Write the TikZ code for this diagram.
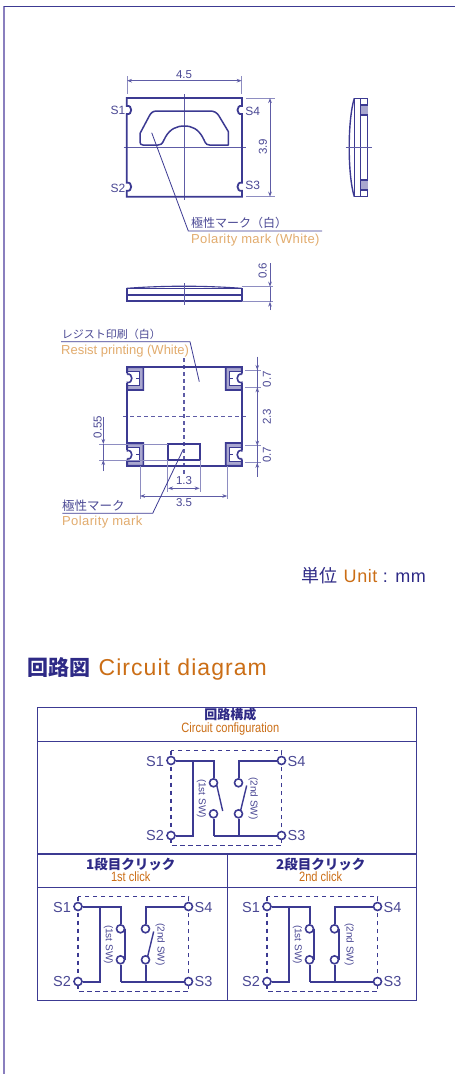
\documentclass[tikz,border=0pt]{standalone}
\usepackage{fontspec}
\usepackage{graphicx}
\setmainfont{Liberation Sans}
\newfontfamily\jp{Noto Sans CJK JP}
\newfontfamily\wideA[LetterSpace=3]{Liberation Sans}
\newfontfamily\wideB[LetterSpace=4.5]{Liberation Sans}
\usetikzlibrary{arrows.meta}
\definecolor{navy}{HTML}{3C3A92}
\definecolor{dimc}{HTML}{5E5CA6}
\definecolor{txtc}{HTML}{4A4894}
\definecolor{tan}{HTML}{E2AC6E}
\definecolor{orng}{HTML}{CB6E16}
\definecolor{deep}{HTML}{2E2A86}
\definecolor{padg}{HTML}{A9A7CF}
\definecolor{framel}{HTML}{8A7FBE}
\tikzset{
  outl/.style={draw=navy,line width=1.8pt},
  thinl/.style={draw=navy,line width=1.1pt},
  fine/.style={draw=dimc,line width=.9pt},
  extn/.style={draw=dimc!70,line width=1pt},
  leader/.style={draw=navy,line width=.8pt},
  dimarrow/.style={draw=dimc,line width=.9pt,{Stealth[length=5pt,width=3.6pt]}-{Stealth[length=5pt,width=3.6pt]}},
  dimin/.style={draw=dimc,line width=.9pt,-{Stealth[length=5pt,width=3.6pt]}},
  dashc/.style={draw=dimc,line width=1.1pt,dash pattern=on 4pt off 3pt},
  dashb/.style={draw=navy,line width=1.7pt,dash pattern=on 4.5pt off 3.5pt},
  lbl/.style={inner sep=0pt,text=txtc,font=\fontsize{11.5}{12}\selectfont},
  sxl/.style={inner sep=0pt,text=txtc,font=\fontsize{12}{13}\selectfont},
  jplbl/.style={inner sep=0pt,anchor=west,text=txtc,font=\fontsize{12}{13}\selectfont\jp},
  enlbl/.style={inner sep=0pt,anchor=west,text=tan,font=\fontsize{13}{14}\selectfont\wideA},
  pin/.style={circle,draw=navy,line width=1.6pt,fill=white,minimum size=8pt,inner sep=0pt},
  wire/.style={draw=navy,line width=2pt},
  swlbl/.style={inner sep=0pt,text=txtc,rotate=-90,font=\fontsize{10}{11}\selectfont},
  pinlbl/.style={inner sep=0pt,text=txtc,font=\fontsize{14.5}{15}\selectfont},
  thead/.style={inner sep=0pt,text=deep,font=\fontsize{13}{14}\selectfont\jp\bfseries},
  tsub/.style={inner sep=0pt,text=orng,font=\fontsize{13.5}{14}\selectfont},
  tbl/.style={draw=navy,line width=1.6pt},
}
% one switch unit: #1 prefix, #2,#3 position, #4 state of 1st SW, #5 state of 2nd SW (o/c)
\newcommand{\swunit}[5]{%
  \begin{scope}[shift={(#2,#3)}]
    \draw[dashb] (0,-10) rectangle (110.5,85);
    \coordinate (#1j) at (21.5,0);
    \coordinate (#1k) at (21.5,75);
    \coordinate (#1m) at (42.5,0);
    \coordinate (#1n) at (42.5,75);
    \coordinate (#1u) at (67.5,0);
    \coordinate (#1v) at (67.5,75);
    \node[pin] (#1a) at (0,0) {};
    \node[pin] (#1d) at (110.5,0) {};
    \node[pin] (#1b) at (0,75) {};
    \node[pin] (#1c) at (110.5,75) {};
    \node[pin] (#1p) at (42.5,22.3) {};
    \node[pin] (#1q) at (42.5,53.3) {};
    \node[pin] (#1r) at (67.5,22.3) {};
    \node[pin] (#1t) at (67.5,53.3) {};
    \draw[wire] (#1a) -- (#1j) -- (#1k) -- (#1b);
    \draw[wire] (#1j) -- (#1m) -- (#1p);
    \draw[wire] (#1q) -- (#1n);
    \draw[wire] (#1n) -- (#1c);
    \draw[wire] (#1d) -- (#1u) -- (#1r);
    \draw[wire] (#1t) -- (#1v);
    \if#4o\draw[wire,line width=1.4pt] (45.7,24.5) -- (51.7,50.5);\else\draw[wire] (46.5,22.3) -- (46.5,53.3);\fi
    \if#5o\draw[wire,line width=1.4pt] (75.7,25) -- (69.5,50.5);\else\draw[wire] (71.5,22.3) -- (71.5,53.3);\fi
    \node[swlbl] (#1l) at (30.5,38) {(1st SW)};
    \node[swlbl] (#1e) at (82.3,38) {(2nd SW)};
    \node[pinlbl] (#1w) at (-16,0.5) {S1};
    \node[pinlbl] (#1x) at (-16,75) {S2};
    \node[pinlbl] (#1y) at (125.5,0.5) {S4};
    \node[pinlbl] (#1z) at (125.5,75) {S3};
  \end{scope}}
% corner pad of the bottom view
\newcommand{\padcorner}[3]{%
  \begin{scope}[shift={(#1,#2)},#3]
    \fill[white] (-1.5,6) rectangle (1,16);
    \fill[padg] (0,0) rectangle (16,4.5);
    \fill[padg] (0,18) rectangle (16,22.7);
    \fill[padg] (12.5,0) rectangle (16,22.7);
    \draw[outl,line width=1.6pt] (0,7) -- (0,0) -- (16,0) -- (16,22.7) -- (0,22.7) -- (0,15) .. controls (6,16.5) and (6,5.5) .. (0,7);
    \draw[thinl] (0,4.5) -- (12.5,4.5) -- (12.5,18) -- (0,18);
    \draw[thinl] (9,11) -- (12.5,11);
  \end{scope}}
\begin{document}
\begin{tikzpicture}[x=1pt,y=-1pt]
\useasboundingbox (0,0) rectangle (455,1074);
\fill[white] (0,0) rectangle (455,1074);
% page frame
\draw[framel,line width=1.6pt] (4,6) -- (4,1074);
\draw[navy,line width=1.2pt] (4,6.3) -- (455,6.3);

% ---------- top view
\draw[fine] (123.5,147) -- (246,147);
\draw[fine] (184.3,94) -- (184.3,200);
\draw[outl] (126.7,98) -- (242,98) -- (242,106)
  .. controls (236,104.5) and (236,115.5) .. (242,114) -- (242,182.7)
  .. controls (236,181.2) and (236,192.2) .. (242,190.7) -- (242,196.7) -- (126.7,196.7) -- (126.7,190.7)
  .. controls (132.7,192.2) and (132.7,181.2) .. (126.7,182.7) -- (126.7,114)
  .. controls (132.7,115.5) and (132.7,104.5) .. (126.7,106) -- cycle;
\draw[draw=navy,line width=1.5pt,line join=round] (140,133.5) -- (149,116.5)
  .. controls (151,112.5) and (153,111) .. (157,111) -- (210,111)
  .. controls (214,111) and (217,112.5) .. (219,116)
  -- (228.3,131.5) -- (228.3,145) -- (209.5,145)
  .. controls (205,145) and (205,141) .. (202.5,137)
  .. controls (198,129) and (192,126) .. (184.3,126)
  .. controls (176.5,126) and (170,129) .. (165.5,137)
  .. controls (163,141) and (163,145) .. (158,145)
  -- (143,145) .. controls (141,145) and (140,144) .. (140,142) -- cycle;
\node[sxl] (s1t) at (118,110) {S1};
\node[sxl] (s2t) at (118,188) {S2};
\node[sxl] (s4t) at (252.7,111.7) {S4};
\node[sxl] (s3t) at (252.7,185.7) {S3};
\draw[extn] (127,76) -- (127,94);
\draw[extn] (241.7,76) -- (241.7,94);
\draw[dimarrow] (127,80.7) -- (241.7,80.7);
\node[lbl] (w45) at (184,75) {4.5};
\draw[extn] (246,98) -- (274.5,98);
\draw[extn] (246,196.7) -- (274.5,196.7);
\draw[dimarrow] (270,98) -- (270,196.7);
\node[lbl,rotate=90] (h39) at (263,147) {3.9};
\coordinate (lp1) at (151.7,132.7);
\coordinate (lp2) at (188.3,231);
\coordinate (lp3) at (322,231);
\draw[leader] (lp1) -- (lp2) -- (lp3);
\node[jplbl] (pm1) at (191,222.5) {極性マーク（白）};
\node[enlbl] (pm2) at (191,240) {Polarity mark (White)};

% ---------- side view (right)
\draw[outl,line width=1.5pt] (354.3,98.3) rectangle (367.7,196.7);
\fill[padg] (361,105) rectangle (367.7,115);
\fill[padg] (361,180) rectangle (367.7,190);
\draw[thinl,line width=1.4pt] (360.7,98.3) -- (360.7,196.7);
\draw[thinl] (360.7,105) -- (367.7,105) (360.7,115) -- (367.7,115) (360.7,180) -- (367.7,180) (360.7,190) -- (367.7,190);
\draw[draw=navy,line width=1.4pt] (354.3,98.3) .. controls (347.5,120) and (347.5,175) .. (354.3,196.7);
\draw[fine] (345.7,147.3) -- (371.7,147.3);

% ---------- side view (lower)
\draw[outl,line width=1.6pt] (126.7,288.3) rectangle (241.7,301);
\draw[thinl,line width=1.5pt] (126.7,295) -- (241.7,295);
\draw[thinl] (126.7,288.3) .. controls (165,285.5) and (203,285.5) .. (241.7,288.3);
\draw[fine] (184,283.3) -- (184,305);
\draw[extn] (241.7,286.7) -- (273,286.7);
\draw[extn] (241.7,301.7) -- (273,301.7);
\draw[dimin] (270,263) -- (270,286.7);
\draw[dimin] (270,310) -- (270,301.7);
\draw[fine] (270,286.7) -- (270,301.7);
\node[lbl,rotate=90] (h06) at (262.7,271) {0.6};

% ---------- bottom view
\draw[dashc] (184,358) -- (184,475);
\draw[dashc] (123,416.7) -- (247,416.7);
\draw[outl] (127.3,367.3) rectangle (241.7,465.7);
\padcorner{127.3}{367.3}{}
\padcorner{241.7}{367.3}{xscale=-1}
\padcorner{127.3}{465.7}{yscale=-1}
\padcorner{241.7}{465.7}{xscale=-1,yscale=-1}
\draw[outl] (167.7,444) rectangle (200,460);
\node[jplbl,font=\fontsize{11}{12}\selectfont\jp] (rp1) at (61.7,334) {レジスト印刷（白）};
\node[enlbl,font=\fontsize{13}{14}\selectfont] (rp2) at (61,351) {Resist printing (White)};
\coordinate (lr1) at (61,341.7);
\coordinate (lr2) at (190,341.7);
\coordinate (lr3) at (199.3,381.7);
\draw[leader] (lr1) -- (lr2) -- (lr3);
% right dimensions
\draw[extn] (245,370) -- (260.7,370);
\draw[extn] (245,387.3) -- (260.7,387.3);
\draw[extn] (245,445.7) -- (260.7,445.7);
\draw[extn] (245,462.7) -- (260.7,462.7);
\draw[fine] (257.3,356.7) -- (257.3,476.7);
\draw[dimin] (257.3,363) -- (257.3,370);
\draw[dimin] (257.3,394) -- (257.3,387.3);
\draw[dimin] (257.3,439) -- (257.3,445.7);
\draw[dimin] (257.3,470) -- (257.3,462.7);
\node[lbl,rotate=90] (v07a) at (267,379.3) {0.7};
\node[lbl,rotate=90] (v23) at (267,416.7) {2.3};
\node[lbl,rotate=90] (v07b) at (267,455) {0.7};
% left dimension
\draw[extn] (99.3,444) -- (167.7,444);
\draw[extn] (99.3,460) -- (167.7,460);
\draw[dimin] (103.3,416.7) -- (103.3,444);
\draw[dimin] (103.3,471) -- (103.3,460);
\draw[fine] (103.3,444) -- (103.3,460);
\node[lbl,rotate=90] (v55) at (97.7,427) {0.55};
% bottom dimensions
\draw[extn] (167.7,460) -- (167.7,491.7);
\draw[extn] (200,460) -- (200,491.7);
\draw[dimarrow] (168,488.3) -- (199.7,488.3);
\node[lbl] (h13) at (184,481) {1.3};
\draw[extn] (140,465.7) -- (140,499);
\draw[extn] (227.3,465.7) -- (227.3,499);
\draw[dimarrow] (140,496) -- (227.3,496);
\node[lbl] (h35) at (184,503) {3.5};
\coordinate (lq1) at (183.3,449.3);
\coordinate (lq2) at (152.7,513.3);
\coordinate (lq3) at (62.3,513.3);
\draw[leader] (lq1) -- (lq2) -- (lq3);
\node[jplbl,font=\fontsize{12.5}{13}\selectfont\jp] (qm1) at (62,505.5) {極性マーク};
\node[enlbl] (qm2) at (62,521.7) {Polarity mark};

% ---------- unit
\node[inner sep=0pt,anchor=east,text=deep,font=\fontsize{18}{19}\selectfont\wideA] (unit) at (426,575.7) {{\fontsize{18}{19}\selectfont\jp 単位}\hspace{6pt}\textcolor{orng}{Unit} : mm};

% ---------- section title
\node[inner sep=0pt,anchor=west] (title) at (27,669.3) {\fontsize{21}{22}\selectfont\textcolor{deep}{\jp\bfseries 回路図}\hspace{8.5pt}\fontsize{23}{24}\selectfont\wideB\textcolor{orng}{Circuit diagram}};

% ---------- table
\draw[tbl] (37.5,707.5) rectangle (416.5,1000.5);
\coordinate (tl1) at (37.5,741.5);
\coordinate (tr1) at (416.5,741.5);
\coordinate (tl2) at (37.5,854);
\coordinate (tr2) at (416.5,854);
\coordinate (tl3) at (37.5,887.5);
\coordinate (tr3) at (416.5,887.5);
\coordinate (tm2) at (227.5,854);
\coordinate (tm3) at (227.5,1000.5);
\draw[tbl] (tl1) -- (tr1);
\draw[tbl] (tl2) -- (tr2);
\draw[tbl] (tl3) -- (tr3);
\draw[tbl] (tm2) -- (tm3);
\node[thead] (h1) at (230.3,715) {回路構成};
\node[tsub] (h1e) at (230.3,729) {\scalebox{.82}[1]{Circuit configuration}};
\node[thead,font=\fontsize{13.5}{14}\selectfont\jp\bfseries] (h2) at (130.7,864) {1段目クリック};
\node[tsub] (h2e) at (130.7,877) {\scalebox{.82}[1]{1st click}};
\node[thead,font=\fontsize{13.5}{14}\selectfont\jp\bfseries] (h3) at (320.7,864) {2段目クリック};
\node[tsub] (h3e) at (320.7,877) {\scalebox{.82}[1]{2nd click}};
\swunit{ca}{171}{760.5}{o}{o}
\swunit{cb}{78}{906.5}{c}{o}
\swunit{cc}{267}{906.5}{c}{c}
\end{tikzpicture}
\end{document}
